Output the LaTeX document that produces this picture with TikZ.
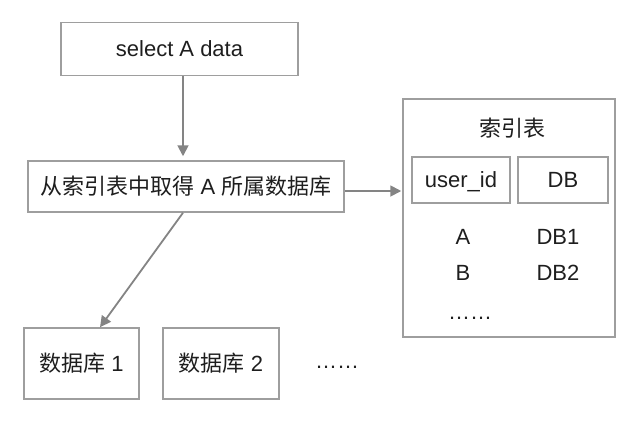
\documentclass[tikz,border=0pt]{standalone}
\usepackage{fontspec}
\setmainfont{Liberation Sans}
\newfontfamily\cjk{Noto Sans CJK SC}
\usetikzlibrary{arrows.meta}
\definecolor{boxgray}{HTML}{9E9E9E}
\definecolor{arrowgray}{HTML}{848484}
\definecolor{textdark}{HTML}{1E1E1E}

\begin{document}
\begin{tikzpicture}[x=1pt, y=-1pt,
    every node/.style={text=textdark, font=\fontsize{22}{26}\selectfont, inner sep=0pt},
    box/.style={draw=boxgray, line width=1.5pt},
    arrow/.style={draw=arrowgray, line width=1.8pt, -{Triangle[length=11pt,width=11pt]}}]
    \useasboundingbox (0,0) rectangle (640,424);

    % query
    \node[box, minimum width=237, minimum height=53] (sel) at (179.5,49) {select A data};
    \node[box, minimum width=316, minimum height=51] (lookup) at (186,186.5)
        {{\cjk 从索引表中取得} A {\cjk 所属数据库}};

    % index table
    \node[box, minimum width=212, minimum height=238] (idx) at (509,218) {};
    \node (title) at (512,128) {\cjk 索引表};
    \node[box, minimum width=98, minimum height=46, text depth=0pt] (colid) at (461,180) {user\_id};
    \node[box, minimum width=90, minimum height=46] (coldb) at (563,180) {DB};
    \node (keya) at (463,237) {A};
    \node (vala) at (558,237) {DB1};
    \node (keyb) at (463,273) {B};
    \node (valb) at (558,273) {DB2};
    \node (rowmore) at (470,318) {……};

    % databases
    \node[box, minimum width=115, minimum height=71] (db1) at (81.5,363.5) {{\cjk 数据库} 1};
    \node[box, minimum width=116, minimum height=71] (db2) at (221,363.5) {{\cjk 数据库} 2};
    \node (dbmore) at (337,367) {……};

    % connectors
    \draw[arrow, shorten >=4pt] ([xshift=3.5]sel.south) -- ([xshift=3.5]sel.south |- lookup.north);
    \draw[arrow, shorten >=1pt] ([yshift=-4.5]lookup.east) -- ([yshift=-4.5]lookup.east -| idx.west);
    \draw[arrow] ([xshift=-3]lookup.south) -- ([xshift=18.5]db1.north);
\end{tikzpicture}
\end{document}
